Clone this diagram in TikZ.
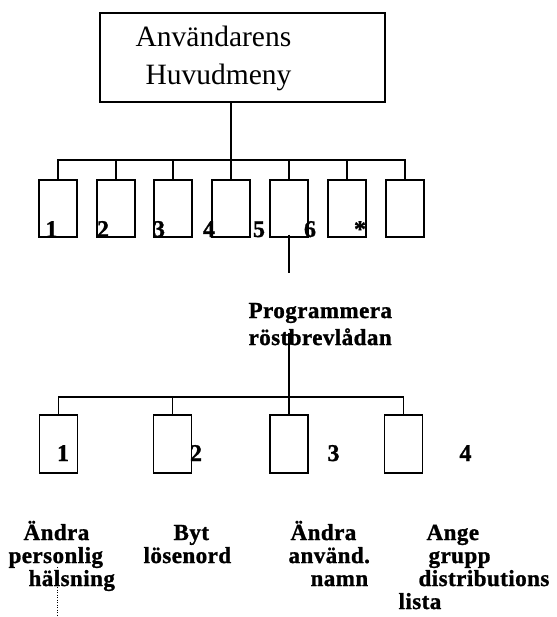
\documentclass[tikz,border=0pt]{standalone}
\usepackage{fontspec}
\setmainfont{Liberation Serif}
\newfontfamily\lblfont[LetterSpace=2,FakeBold=1.2]{Liberation Serif}
\newfontfamily\numfont[FakeBold=1.2]{Liberation Serif}
\begin{document}
\begin{tikzpicture}[x=1pt,y=-1pt,line width=1.2pt,
  box/.style={draw,minimum width=38pt,minimum height=57pt,inner sep=0pt},
  lbl/.style={font=\lblfont\bfseries\fontsize{23}{27}\selectfont,inner sep=0pt,anchor=base west},
  num/.style={font=\numfont\bfseries\fontsize{24}{28}\selectfont,inner sep=0pt,anchor=base},
  ttl/.style={font=\fontsize{29.5}{34}\selectfont,inner sep=0pt,anchor=base west}]
\useasboundingbox (0,0) rectangle (556,617);
% top box
\node[draw,minimum width=285pt,minimum height=89pt,inner sep=0pt] (main) at (242.5,57.5) {};
\node[ttl] (mt1) at (135,47) {Användarens};
\node[ttl] (mt2) at (145,85) {Huvudmeny};
% first row
\coordinate (bus) at (231,160);
\foreach \i/\x in {1/58,2/116,3/173,4/231,5/289,6/347,7/405}
  \node[box] (t\i) at (\x,208.5) {};
\draw (main.south -| bus) -- (bus);
\draw (t1.north) -- (t1.north |- bus) -- (t7.north |- bus) -- (t7.north);
\foreach \i in {2,...,6}
  \draw (t\i.north) -- (t\i.north |- bus);
\foreach \i/\x/\s in {1/51.5/1,2/103/2,3/159/3,4/209/4,5/259/5,6/310/6,7/360/*}
  \node[num] (n\i) at (\x,237) {\s};
% connector to submenu
\draw ([yshift=3pt]t5.south) -- ++(0,38);
\node[lbl] (prog1) at (248,318) {Programmera};
\node[lbl] (prog2) at (248,345) {röstbrevlådan};
\coordinate (bus2) at (289,397);
\coordinate (pq) at (289,333);
\draw (pq) -- (bus2);
% second row
\foreach \i/\x in {1/58.5,2/172.5,3/289,4/403.5}
  \node[box,minimum height=58pt] (b\i) at (\x,444) {};
\draw (b1.north) -- (b1.north |- bus2) -- (b4.north |- bus2) -- (b4.north);
\draw (b2.north) -- (b2.north |- bus2);
\draw (b3.north) -- (b3.north |- bus2);
\foreach \i/\x in {1/63,2/196,3/333.5,4/465.5}
  \node[num] (m\i) at (\x,461) {\i};
% labels
\node[lbl] (a1) at (23,540) {Ändra};
\node[lbl] (a2) at (8,563) {personlig};
\node[lbl] (a3) at (28,586) {hälsning};
\node[lbl] (c1) at (173,540) {Byt};
\node[lbl] (c2) at (143,563) {lösenord};
\node[lbl] (e1) at (290,540) {Ändra};
\node[lbl] (e2) at (288,563) {använd.};
\node[lbl] (e3) at (310,586) {namn};
\node[lbl] (g1) at (426,540) {Ange};
\node[lbl] (g2) at (428,563) {grupp};
\node[lbl] (g3) at (418,586) {distributions};
\node[lbl] (g4) at (398,609) {lista};
\coordinate (d1) at (57,567);
\coordinate (d2) at (57,617);
\draw[line width=0.9pt,dash pattern=on 1pt off 1.5pt] (d1) -- (d2);
\end{tikzpicture}
\end{document}
